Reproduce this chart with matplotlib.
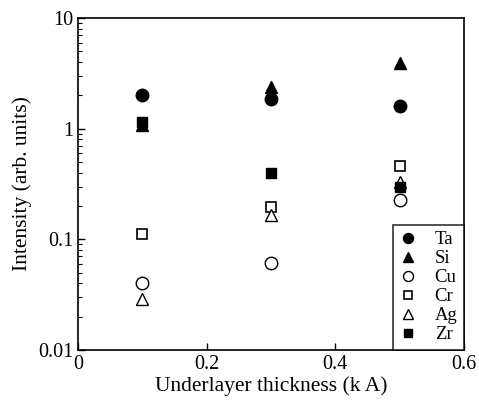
import matplotlib
matplotlib.use("Agg")
import matplotlib.pyplot as plt
from matplotlib.ticker import LogLocator, FixedLocator, NullFormatter, FixedFormatter

plt.rcParams['font.family'] = ['Liberation Serif', 'DejaVu Serif']

x = [0.1, 0.3, 0.5]
ta = [2.0, 1.84, 1.60]
si = [1.08, 2.37, 3.9]
cu = [0.040, 0.061, 0.227]
cr = [0.111, 0.195, 0.46]
ag = [0.029, 0.166, 0.33]
zr = [1.16, 0.40, 0.30]

fig = plt.figure(figsize=(4.79, 4.07), dpi=100)
ax = fig.add_axes([78/479, 1-350/407, (464-78)/479, (350-18)/407])

ms = 9
ax.plot(x, ta, 'o', color='black', ms=ms, label='Ta', ls='none')
ax.plot(x, si, '^', color='black', ms=ms, label='Si', ls='none')
ax.plot(x, cu, 'o', mfc='white', mec='black', ms=ms, mew=1.0, label='Cu', ls='none')
ax.plot(x, cr, 's', mfc='white', mec='black', ms=7, mew=1.2, label='Cr', ls='none')
ax.plot(x, ag, '^', mfc='white', mec='black', ms=ms, mew=1.0, label='Ag', ls='none')
ax.plot(x, zr, 's', color='black', ms=7, label='Zr', ls='none')

ax.set_yscale('log')
ax.set_xlim(0, 0.6)
ax.set_ylim(0.01, 10)
ax.xaxis.set_major_locator(FixedLocator([0, 0.2, 0.4, 0.6]))
ax.xaxis.set_major_formatter(FixedFormatter(['0', '0.2', '0.4', '0.6']))
ax.yaxis.set_major_locator(FixedLocator([0.01, 0.1, 1, 10]))
ax.yaxis.set_major_formatter(FixedFormatter(['0.01', '0.1', '1', '10']))
ax.yaxis.set_minor_locator(LogLocator(base=10, subs=range(2, 10)))
ax.yaxis.set_minor_formatter(NullFormatter())
ax.tick_params(which='both', direction='in', top=False, right=False, labelsize=14.5)
ax.tick_params(which='major', length=5, width=1)
ax.tick_params(which='minor', length=3, width=0.8)
for s in ax.spines.values():
    s.set_linewidth(1.2)

ax.set_xlabel('Underlayer thickness (k A)', fontsize=15.5, labelpad=2)
ax.set_ylabel('Intensity (arb. units)', fontsize=15.5, labelpad=4)

leg = ax.legend(loc='lower right', fontsize=13.5, frameon=True, fancybox=False,
                edgecolor='black', borderaxespad=0, handlelength=1.0,
                handletextpad=0.9, labelspacing=0.1, borderpad=0.35,
                markerscale=0.8)
leg.get_frame().set_linewidth(1.2)

fig.savefig('out.png', dpi=100)
